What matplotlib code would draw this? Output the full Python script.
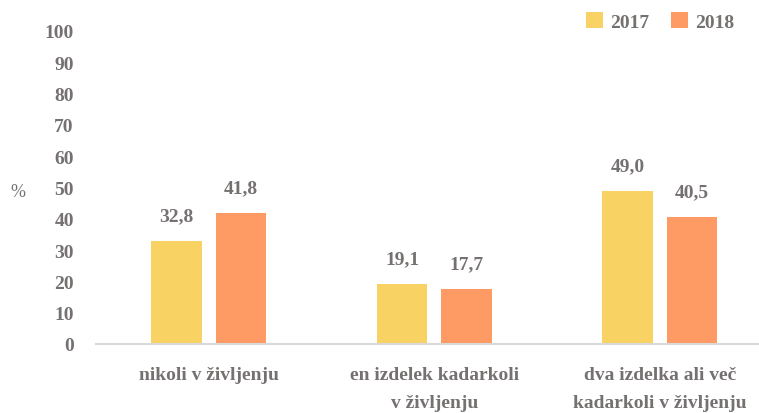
#!/usr/bin/env python3
# Share of respondents by how often they bought the product, 2017 vs 2018
import matplotlib.pyplot as plt
import numpy as np

plt.rcParams['font.family'] = ['Liberation Serif', 'DejaVu Serif']
plt.rcParams['font.weight'] = 'bold'

categories = ["nikoli v življenju",
              "en izdelek kadarkoli\nv življenju",
              "dva izdelka ali več\nkadarkoli v življenju"]
years = ["2017", "2018"]
vals_2017 = [32.8, 19.1, 49.0]
vals_2018 = [41.8, 17.7, 40.5]
colors = ["#F9D264", "#FE9A64"]
txt = "#767171"

fig = plt.figure(figsize=(7.59, 4.14), dpi=100)
ax = fig.add_axes([96/759, 69/414, 676.5/759, 313/414])

x = np.arange(len(categories))
w = 0.222
off = 0.143
for vals, lab, c, d in zip([vals_2017, vals_2018], years, colors, [-off, off]):
    bars = ax.bar(x + d, vals, w, color=c, label=lab)
    for b, v in zip(bars, vals):
        ax.annotate(f"{v:.1f}".replace(".", ","),
                    (b.get_x() + b.get_width()/2, v),
                    xytext=(0, 12), textcoords="offset points",
                    ha="center", va="bottom", fontsize=14, color=txt)

ax.set_xlim(-0.5, 2.5)
ax.set_ylim(0, 100)
ax.set_yticks(range(0, 101, 10))
ax.set_xticks(x)
ax.set_xticklabels(categories, fontsize=14, color=txt, linespacing=1.85)
ax.tick_params(axis="y", length=0, pad=16, labelsize=14, labelcolor=txt)
ax.tick_params(axis="x", length=0, pad=16)
for s in ["top", "right", "left"]:
    ax.spines[s].set_visible(False)
ax.spines["bottom"].set_color("#D9D9D9")
ax.spines["bottom"].set_linewidth(1.5)

ax.set_ylabel("%", rotation=0, fontsize=13, color=txt, labelpad=0)
ax.yaxis.set_label_coords(-0.115, 0.46)

fig.legend(loc="upper right", bbox_to_anchor=(752/759, 1.01), ncol=2,
           frameon=False, fontsize=14, labelcolor=txt,
           handlelength=0.85, handleheight=0.85, handletextpad=0.4,
           columnspacing=1.1)

plt.savefig("out.png")
